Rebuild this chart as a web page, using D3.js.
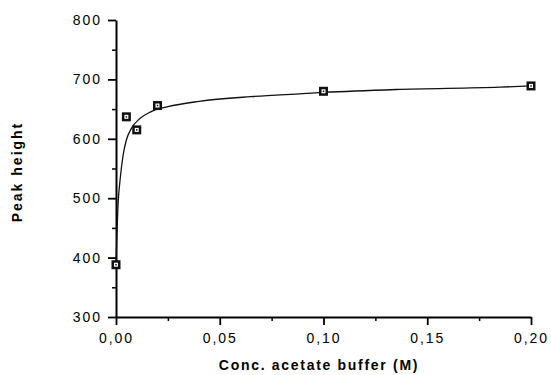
<!DOCTYPE html>
<html>
<head>
<meta charset="utf-8">
<script src="https://cdn.jsdelivr.net/npm/d3@7"></script>
<style>
  body { margin: 0; background: #fff; }
  svg { display: block; }
</style>
</head>
<body>
<script>
// measured points (conc. in M, peak height)
var concValues = [0, 0.005, 0.01, 0.02, 0.10, 0.20];
var peakValues = [388, 637, 615, 656, 680, 689];

// fitted curve
var curveConc = [0, 0.001, 0.002, 0.0035, 0.005, 0.0075, 0.0115, 0.0165, 0.025, 0.04, 0.065, 0.09, 0.10, 0.135, 0.185, 0.20];
var curvePeak = [388, 490, 532, 574, 598, 618, 634, 645, 654, 663, 671, 676, 678, 683, 687, 689];

var xTicks = [0, 0.05, 0.10, 0.15, 0.20];
var xMinor = [0.025, 0.075, 0.125, 0.175];
var yTicks = [300, 400, 500, 600, 700, 800];
var yMinor = [350, 450, 550, 650, 750];

var width = 551, height = 375;

var x = d3.scaleLinear().domain([0, 0.20]).range([116, 531]);
var y = d3.scaleLinear().domain([300, 800]).range([317, 20]);

var svg = d3.select("body").append("svg")
  .attr("width", width)
  .attr("height", height);

var fmt = function(d) { return d3.format(".2f")(d).replace(".", ","); };

//minor ticks first, axes on top
svg.append("g")
  .attr("transform", "translate(0," + y(300) + ")")
  .call(d3.axisBottom(x).tickValues(xMinor).tickSize(4).tickFormat(""))
  .call(function(g) { g.select(".domain").remove(); g.selectAll("line").attr("stroke-width", 1.5); });

svg.append("g")
  .attr("transform", "translate(" + x(0) + ",0)")
  .call(d3.axisLeft(y).tickValues(yMinor).tickSize(4).tickFormat(""))
  .call(function(g) { g.select(".domain").remove(); g.selectAll("line").attr("stroke-width", 1.5); });

var xAxis = svg.append("g")
  .attr("transform", "translate(0," + y(300) + ")")
  .call(d3.axisBottom(x).tickValues(xTicks).tickSize(8).tickSizeOuter(0).tickPadding(8).tickFormat(fmt));

var yAxis = svg.append("g")
  .attr("transform", "translate(" + x(0) + ",0)")
  .call(d3.axisLeft(y).tickValues(yTicks).tickSize(8).tickSizeOuter(0).tickPadding(6));

[xAxis, yAxis].forEach(function(g) {
  g.select(".domain").attr("stroke-width", 2);
  g.selectAll(".tick line").attr("stroke-width", 1.8);
  g.selectAll("text")
    .attr("fill", "#000")
    .style("font-family", "'Liberation Sans', Arial, sans-serif")
    .style("font-size", "14px")
    .style("letter-spacing", "2px");
});

//fitted curve
var pts = curveConc.map(function(c, i) { return [c, curvePeak[i]]; });
var line = d3.line()
  .x(function(d) { return x(d[0]); })
  .y(function(d) { return y(d[1]); })
  .curve(d3.curveMonotoneX);

svg.append("path")
  .datum(pts)
  .attr("d", line)
  .attr("fill", "none")
  .attr("stroke", "#111")
  .attr("stroke-width", 1.3);

//square markers with a dot in the middle
var marks = svg.selectAll(".mark")
  .data(concValues)
  .enter().append("g")
  .attr("class", "mark")
  .attr("transform", function(d, i) { return "translate(" + x(d) + "," + y(peakValues[i]) + ")"; });

marks.append("rect")
  .attr("x", -4.5).attr("y", -4.5)
  .attr("width", 9).attr("height", 9)
  .attr("fill", "#111");
marks.append("rect")
  .attr("x", -2).attr("y", -2)
  .attr("width", 4).attr("height", 4)
  .attr("fill", "#fff");
marks.append("rect")
  .attr("x", -0.75).attr("y", -0.75)
  .attr("width", 1.5).attr("height", 1.5)
  .attr("fill", "#111");

//axis titles
svg.append("text")
  .attr("x", 319)
  .attr("y", 370)
  .attr("text-anchor", "middle")
  .style("font-family", "'Liberation Sans', Arial, sans-serif")
  .style("font-weight", "bold")
  .style("font-size", "14px")
  .style("letter-spacing", "1.7px")
  .text("Conc. acetate buffer (M)");

svg.append("text")
  .attr("transform", "translate(22,172) rotate(-90)")
  .attr("text-anchor", "middle")
  .style("font-family", "'Liberation Sans', Arial, sans-serif")
  .style("font-weight", "bold")
  .style("font-size", "14px")
  .style("letter-spacing", "2px")
  .text("Peak height");
</script>
</body>
</html>
